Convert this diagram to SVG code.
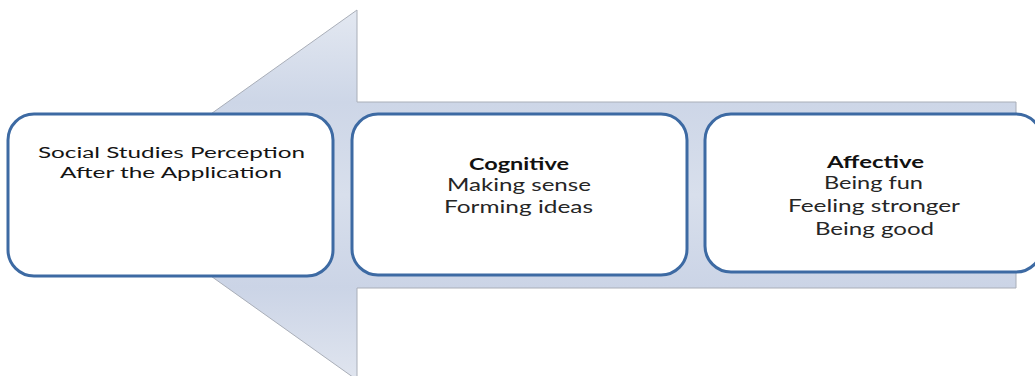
<svg xmlns="http://www.w3.org/2000/svg" width="1035" height="376" viewBox="0 0 1035 376">
  <style>
    .box { fill: #ffffff; stroke: #3d6aa3; stroke-width: 3; }
    .t { font-family: Lato, "Open Sans", "Liberation Sans", sans-serif; font-size: 17px; fill: #262626; }
    .b { font-weight: bold; fill: #111111; }
    .h { fill: #141414; font-size: 15.5px; }
  </style>
  <defs>
    <linearGradient id="arrowFill" gradientUnits="userSpaceOnUse" x1="0" y1="10" x2="0" y2="380">
      <stop offset="0" stop-color="#e3e8f1"/>
      <stop offset="0.25" stop-color="#cdd6e7"/>
      <stop offset="0.5" stop-color="#d8dfec"/>
      <stop offset="0.75" stop-color="#cbd4e6"/>
      <stop offset="1" stop-color="#e0e5ef"/>
    </linearGradient>
  </defs>
  <rect width="1035" height="376" fill="#ffffff"/>
  <g id="connectors">
    <polygon id="arrow" points="97,195 357,10 357,102 1016,102 1016,288 357,288 357,380" fill="url(#arrowFill)" stroke="#a9aeb8" stroke-width="1"/>
  </g>
  <g id="node-perception">
    <rect class="box" x="8" y="114" width="325" height="162" rx="26" ry="26"/>
    <text class="t h" x="38" y="158" textLength="267" lengthAdjust="spacingAndGlyphs">Social Studies Perception</text>
    <text class="t h" x="60" y="178" textLength="222" lengthAdjust="spacingAndGlyphs">After the Application</text>
  </g>
  <g id="node-cognitive">
    <rect class="box" x="352" y="114" width="335" height="161" rx="26" ry="26"/>
    <text class="t b" x="469" y="170" textLength="100" lengthAdjust="spacingAndGlyphs">Cognitive</text>
    <text class="t" x="447" y="191" textLength="144" lengthAdjust="spacingAndGlyphs">Making sense</text>
    <text class="t" x="444" y="213" textLength="149" lengthAdjust="spacingAndGlyphs">Forming ideas</text>
  </g>
  <g id="node-affective">
    <rect class="box" x="705" y="114" width="337" height="158" rx="26" ry="26"/>
    <text class="t b" x="827" y="168" textLength="97" lengthAdjust="spacingAndGlyphs">Affective</text>
    <text class="t" x="824" y="189" textLength="99" lengthAdjust="spacingAndGlyphs">Being fun</text>
    <text class="t" x="788" y="212" textLength="172" lengthAdjust="spacingAndGlyphs">Feeling stronger</text>
    <text class="t" x="815" y="235" textLength="119" lengthAdjust="spacingAndGlyphs">Being good</text>
  </g>
</svg>
